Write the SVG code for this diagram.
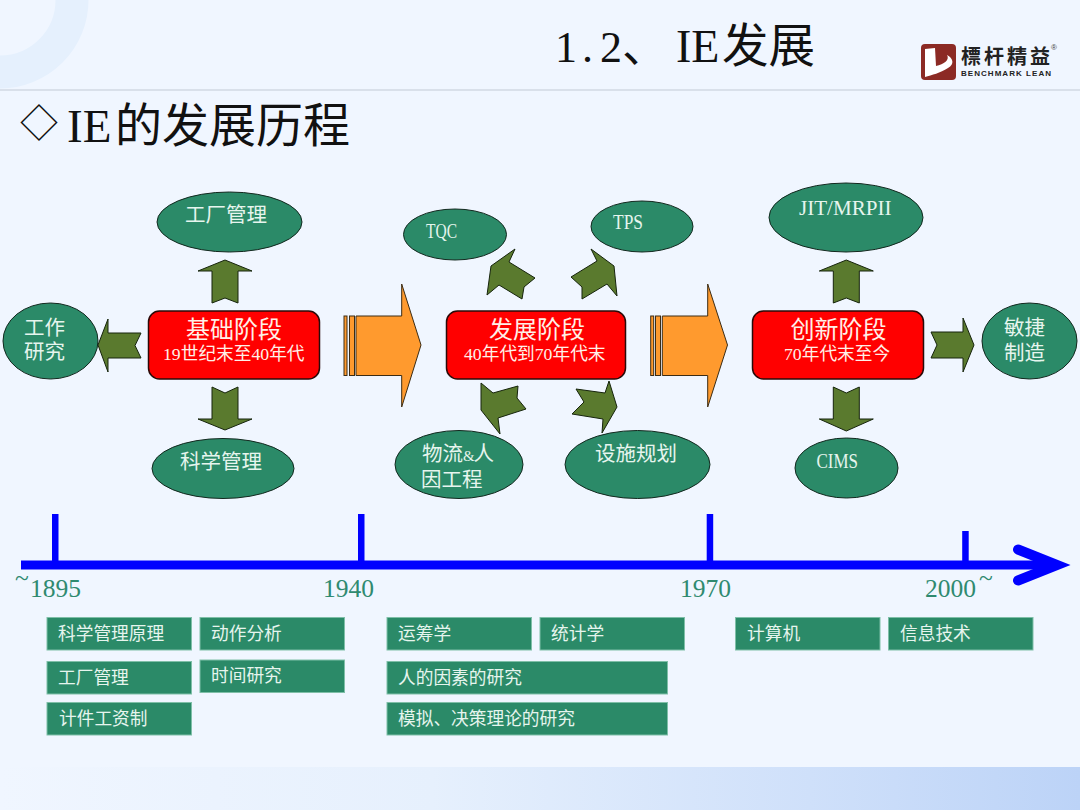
<svg xmlns="http://www.w3.org/2000/svg" width="1080" height="810" viewBox="0 0 1080 810">
<defs>
<linearGradient id="band" x1="0" y1="0" x2="1" y2="0"><stop offset="0" stop-color="#f0f6ff"/><stop offset="0.4" stop-color="#e6f0fd"/><stop offset="0.75" stop-color="#cfe0fa"/><stop offset="1" stop-color="#bcd3f7"/></linearGradient>
</defs>
<style>
text{font-family:"Liberation Serif","Noto Sans CJK SC",serif}
.ell{fill:#2b8a68;stroke:#12281e;stroke-width:1}
.red{fill:#ff0000;stroke:#2a0a08;stroke-width:1.5}
.gr{fill:#5a7a2e;stroke:#16240c;stroke-width:1}
.or{fill:#ff9a2e;stroke:#3c2c14;stroke-width:1}
.bx{fill:#2b8a68;stroke:#7fbfa8;stroke-width:1}
.nt{fill:#e6f5ee;font-size:20.5px}
.bt{fill:#e6f5ee;font-size:17.7px}
.rt{fill:#fff0e8;font-size:24px}
.rs{fill:#fff0e8;font-size:17.7px}
.yr{fill:#2f8a70;font-size:25.5px}
.tick{fill:#0000ff}
</style>
<rect width="1080" height="810" fill="#f0f6ff"/>
<rect y="767" width="1080" height="43" fill="url(#band)"/>
<circle cx="0" cy="0" r="72" fill="none" stroke="#e5f0fd" stroke-width="33"/>
<rect y="89" width="1080" height="2" fill="#d9e0ea"/>

<text fill="#111"><tspan x="555" y="62" font-size="44">1</tspan><tspan x="582" y="62" font-size="44">.</tspan><tspan x="600" y="62" font-size="44">2</tspan><tspan x="622" y="62" font-size="46">、</tspan><tspan x="676" y="62" font-size="46">IE</tspan><tspan x="722" y="62" font-size="46.5">发展</tspan></text>
<text fill="#111"><tspan x="20" y="137" font-size="38">◇</tspan><tspan x="67" y="142" font-size="47">IE</tspan><tspan x="115" y="142" font-size="47">的发展历程</tspan></text>

<g id="logo">
<rect x="921" y="44" width="35" height="36" rx="4" fill="#8c2a24"/>
<path d="M925,49 L935,48 L936,66 C944,64 950,60 947,55 C953,58 955,64 948,68 C940,73 932,75 925,77 Z" fill="#fff"/>
<text x="961" y="64" font-size="20" font-weight="700" fill="#222" style="font-family:'Noto Sans CJK TC',sans-serif" textLength="89">標杆精益</text>
<text x="961" y="76" font-size="8" font-weight="700" fill="#222" style="font-family:'Liberation Sans',sans-serif" textLength="90">BENCHMARK LEAN</text>
<text x="1051" y="50" font-size="8" fill="#444" style="font-family:'Liberation Sans',sans-serif">®</text>
</g>

<g id="connectors">
<polygon class="gr" points="225,260 252,271 238,271 238,303 225,298 212,303 212,271 198,271"/>
<polygon class="gr" points="225,430 252,419 238,419 238,387 225,393 212,387 212,419 198,419"/>
<polygon class="gr" points="98,345 108,319 108,333 141,333 135,345.5 141,358 108,358 108,372"/>
<polygon class="gr" points="491,266 515,249 509,262 535,278 524,287 522,299 499,285 487,295"/>
<polygon class="gr" points="614,266 591,249 597,261 571,277 582,287 582,299 607,284 617,296"/>
<polygon class="gr" points="481,383 493,393 518,386 517,398 526,409 498,418 500,434 481,410"/>
<polygon class="gr" points="609,381 617,407 602,433 603,419 572,414 584,402 576,389 605,393"/>
<polygon class="gr" points="846.3,260 873.3,271 859.3,271 859.3,303 846.3,298 833.3,303 833.3,271 819.3,271"/>
<polygon class="gr" points="846.3,431 873.3,419 859.3,419 859.3,387 846.3,393 833.3,387 833.3,419 819.3,419"/>
<polygon class="gr" points="974,345 963,318 963,332 931,332 937,345 931,358 963,358 963,372"/>
<g id="flow1">
<rect class="or" x="344" y="316" width="3" height="59.5"/>
<rect class="or" x="349.5" y="316" width="5" height="59.5"/>
<polygon class="or" points="356,316 401.7,316 401.7,284 421,345 401.7,407 401.7,375.5 356,375.5"/>
</g>
<g id="flow2">
<rect class="or" x="650.7" y="316" width="3" height="59.5"/>
<rect class="or" x="655.5" y="316" width="5" height="59.5"/>
<polygon class="or" points="662.3,316 707.7,316 707.7,284 727.5,345 707.7,407 707.7,375.5 662.3,375.5"/>
</g>
</g>

<g id="stage-basic"><rect class="red" x="148.5" y="311" width="171" height="68" rx="11"/><text class="rt" x="186" y="338">基础阶段</text><text class="rs" x="163" y="360">19世纪末至40年代</text></g>
<g id="stage-develop"><rect class="red" x="446.5" y="311" width="179" height="68" rx="11"/><text class="rt" x="489" y="338">发展阶段</text><text class="rs" x="464" y="360">40年代到70年代末</text></g>
<g id="stage-innovate"><rect class="red" x="752.5" y="311" width="171" height="68" rx="11"/><text class="rt" x="790.5" y="338">创新阶段</text><text class="rs" x="784" y="360">70年代末至今</text></g>

<g id="n-factory"><ellipse class="ell" cx="229.5" cy="222" rx="72.5" ry="30"/><text class="nt" x="185" y="222">工厂管理</text></g>
<g id="n-work"><ellipse class="ell" cx="50.5" cy="341" rx="47.5" ry="38"/><text class="nt" x="24" y="335">工作</text><text class="nt" x="24" y="359">研究</text></g>
<g id="n-science"><ellipse class="ell" cx="223" cy="468.5" rx="71" ry="30"/><text class="nt" x="180" y="469">科学管理</text></g>
<g id="n-tqc"><ellipse class="ell" cx="455" cy="234.5" rx="51.5" ry="25.5"/><text class="nt" x="426" y="238" textLength="31" lengthAdjust="spacingAndGlyphs">TQC</text></g>
<g id="n-tps"><ellipse class="ell" cx="642" cy="226.5" rx="51" ry="25.5"/><text class="nt" x="613" y="229" textLength="30" lengthAdjust="spacingAndGlyphs">TPS</text></g>
<g id="n-logistics"><ellipse class="ell" cx="459" cy="464.5" rx="64" ry="34"/><text class="nt" x="422" y="461">物流<tspan font-size="15">&amp;</tspan><tspan x="473.5">人</tspan></text><text class="nt" x="421" y="487">因工程</text></g>
<g id="n-facility"><ellipse class="ell" cx="637.5" cy="464.5" rx="72.5" ry="34"/><text class="nt" x="595" y="461">设施规划</text></g>
<g id="n-jit"><ellipse class="ell" cx="846" cy="217.5" rx="77" ry="34.5"/><text class="nt" x="799" y="215" textLength="92.5" lengthAdjust="spacingAndGlyphs">JIT/MRPII</text></g>
<g id="n-cims"><ellipse class="ell" cx="846.5" cy="468" rx="51.5" ry="30"/><text class="nt" x="816.5" y="468" textLength="41.5" lengthAdjust="spacingAndGlyphs">CIMS</text></g>
<g id="n-agile"><ellipse class="ell" cx="1029.5" cy="341" rx="47.5" ry="38"/><text class="nt" x="1004" y="335">敏捷</text><text class="nt" x="1004" y="360">制造</text></g>

<g id="timeline">
<rect class="tick" x="21" y="560.5" width="1030" height="9"/>
<rect class="tick" x="52" y="514" width="6.5" height="48"/>
<rect class="tick" x="358" y="514" width="6.5" height="48"/>
<rect class="tick" x="706.7" y="514" width="6.5" height="48"/>
<rect class="tick" x="962.2" y="531" width="6.5" height="31"/>
<path d="M1018,549.5 L1057,565 L1018,580.5" fill="none" stroke="#0000ff" stroke-width="10" stroke-linecap="round" stroke-linejoin="miter"/>
<text class="yr"><tspan x="15" y="586">~</tspan><tspan x="30" y="597">1895</tspan></text>
<text class="yr" x="323" y="597">1940</text>
<text class="yr" x="680" y="597">1970</text>
<text class="yr"><tspan x="925" y="597">2000</tspan><tspan x="979" y="586">~</tspan></text>
</g>

<g id="b1"><rect class="bx" x="47" y="617.5" width="144.5" height="32.5"/><text class="bt" x="58" y="639.5">科学管理原理</text></g>
<g id="b2"><rect class="bx" x="200" y="617.5" width="144.5" height="32.5"/><text class="bt" x="211" y="639.5">动作分析</text></g>
<g id="b3"><rect class="bx" x="387" y="617.5" width="144.5" height="32.5"/><text class="bt" x="398" y="639.5">运筹学</text></g>
<g id="b4"><rect class="bx" x="540" y="617.5" width="144.5" height="32.5"/><text class="bt" x="551" y="639.5">统计学</text></g>
<g id="b5"><rect class="bx" x="735.5" y="617.5" width="144.5" height="32.5"/><text class="bt" x="747" y="639.5">计算机</text></g>
<g id="b6"><rect class="bx" x="888.5" y="617.5" width="144.5" height="32.5"/><text class="bt" x="900" y="639.5">信息技术</text></g>
<g id="b7"><rect class="bx" x="47" y="661.5" width="144.5" height="32.5"/><text class="bt" x="58" y="683.5">工厂管理</text></g>
<g id="b8"><rect class="bx" x="200" y="660" width="144.5" height="32.5"/><text class="bt" x="211" y="682">时间研究</text></g>
<g id="b9"><rect class="bx" x="387" y="661.5" width="280.5" height="32.5"/><text class="bt" x="398" y="683.5">人的因素的研究</text></g>
<g id="b10"><rect class="bx" x="47" y="702.5" width="144.5" height="32.5"/><text class="bt" x="59" y="724.5">计件工资制</text></g>
<g id="b11"><rect class="bx" x="387" y="702.5" width="280.5" height="32.5"/><text class="bt" x="398" y="724.5">模拟、决策理论的研究</text></g>
</svg>
